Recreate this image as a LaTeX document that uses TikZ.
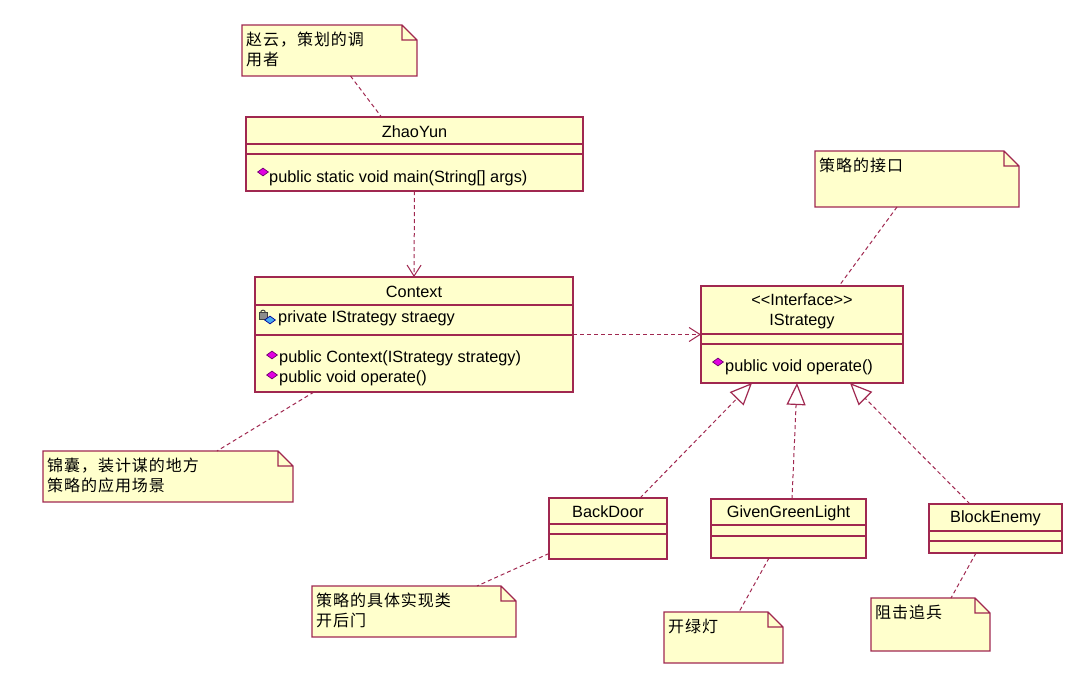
\documentclass[tikz,border=0pt]{standalone}
\usepackage{fontspec}
\setmainfont{Liberation Sans}
\newfontfamily\cjk[LetterSpace=6]{Noto Sans CJK SC}
\usepackage{tikz}
\usetikzlibrary{
  positioning,
  arrows.meta,
  shapes.geometric
}
\definecolor{umlred}{RGB}{160,40,80}
\definecolor{umlfill}{RGB}{255,255,204}
\definecolor{opcolor}{RGB}{225,0,225}
\definecolor{opedge}{RGB}{110,0,110}
\definecolor{privcolor}{RGB}{70,170,240}
\tikzset{
  every node/.style={font=\fontsize{16.3}{20}\selectfont},
  classbox/.style={draw=umlred, fill=umlfill, line width=1.2pt, anchor=north west, inner sep=0pt, outer sep=0pt},
  notebox/.style={fill=umlfill, anchor=north west, inner sep=0pt, outer sep=0pt},
  notetext/.style={font=\cjk\fontsize{16}{20}\selectfont, align=left, inner sep=0pt, anchor=north west},
  member/.style={anchor=west, inner sep=0pt},
  umlline/.style={umlred, line width=1.2pt},
  link/.style={umlred, line width=1pt, dash pattern=on 4pt off 3pt},
  depend/.style={link, -{Straight Barb[length=11pt, width=14pt, line width=1pt]}},
  realize/.style={link, -{Triangle[length=22pt, width=19pt, fill=white, line width=1.2pt]}},
  opicon/.style={diamond, draw=opedge, fill=opcolor, line width=0.7pt, minimum width=11pt, minimum height=8pt, inner sep=0pt},
  lockicon/.style={draw=black!75, fill=black!45, line width=0.7pt, minimum width=8pt, minimum height=6.5pt, inner sep=0pt},
  privicon/.style={diamond, draw=blue!60!black, fill=privcolor, line width=0.7pt, minimum width=11pt, minimum height=8pt, inner sep=0pt}
}
\newcommand\umlclass[8]{
  \node[classbox, minimum width=#4pt, minimum height=#5pt] (#1) at (#2,#3) {};
  \draw[umlline] ([yshift=-#6pt]#1.north west) -- ([yshift=-#6pt]#1.north east)
    ([yshift=-#7pt]#1.north west) -- ([yshift=-#7pt]#1.north east);
  \node[align=center, inner sep=0pt] (#1-title) at ([yshift={-(#6/2+1)*1pt}]#1.north) {#8};
}
\newcommand\umlnote[6]{
  \node[notebox, minimum width=#4pt, minimum height=#5pt] (#1) at (#2,#3) {};
  \fill[white] ([xshift=-15pt]#1.north east) -- (#1.north east) -- ([yshift=-15pt]#1.north east) -- cycle;
  \draw[umlline] (#1.north west) -- ([xshift=-15pt]#1.north east) -- ([yshift=-15pt]#1.north east)
    -- (#1.south east) -- (#1.south west) -- cycle
    ([xshift=-15pt]#1.north east) |- ([yshift=-15pt]#1.north east);
  \node[notetext, below right=7pt and 4pt of #1.north west] (#1-text) {#6};
}
\begin{document}
\begin{tikzpicture}[x=1pt, y=-1pt]
  \fill[white] (0,0) rectangle (1078,680);
  \useasboundingbox (0,0) rectangle (1078,680);

  \umlnote{zyNote}{242}{25}{175}{51}{赵云，策划的调\\用者}
  \umlclass{zhao}{246}{117}{337}{74}{27}{37}{ZhaoYun}
  \node[opicon] (zhaoOpIcon) at (263,172) {};
  \node[member] (zhaoOp) at (269,178) {public static void main(String[] args)};

  \umlclass{ctx}{255}{277}{318}{115}{28}{58}{Context}
  \node[lockicon] (ctxLock) at (263,316) {};
  \draw[black!75, line width=1pt] ([xshift=-2.3pt]ctxLock.north) arc[start angle=180, end angle=0, radius=2.3pt];
  \node[privicon] (ctxAttrIcon) at (270,320) {};
  \node[member] (ctxAttr) at (278,318) {private IStrategy straegy};
  \node[opicon] (ctxOpIconA) at (272,355) {};
  \node[member] (ctxOpA) at (279,358) {public Context(IStrategy strategy)};
  \node[opicon] (ctxOpIconB) at (272,375) {};
  \node[member] (ctxOpB) at (279,378) {public void operate()};
  \umlnote{ctxNote}{43}{451}{250}{51}{锦囊，装计谋的地方\\策略的应用场景}

  \umlclass{istr}{701}{286}{202}{97}{48}{58}{<\kern0pt<Interface>\kern0pt>\\IStrategy}
  \node[opicon] (istrOpIcon) at (718,362) {};
  \node[member] (istrOp) at (725,367) {public void operate()};
  \umlnote{istrNote}{815}{151}{204}{56}{策略的接口}

  \umlclass{bd}{549}{498}{118}{61}{26}{36}{BackDoor}
  \umlclass{ggl}{711}{499}{155}{59}{26}{37}{GivenGreenLight}
  \umlclass{be}{929}{504}{133}{49}{27}{37}{BlockEnemy}
  \umlnote{bdNote}{312}{586}{204}{51}{策略的具体实现类\\开后门}
  \umlnote{gglNote}{664}{612}{119}{51}{开绿灯}
  \umlnote{beNote}{871}{598}{119}{53}{阻击追兵}

  \draw[link] ([xshift=21pt]zyNote.south) -- ([xshift=-33pt]zhao.north);
  \draw[depend] (zhao.south) -- (ctx.north);
  \draw[link] ([xshift=-100pt]ctx.south) -- ([xshift=49pt]ctxNote.north);
  \draw[depend] (ctx.east) -- (istr.west);
  \draw[link] ([xshift=-20pt]istrNote.south) -- ([xshift=37pt]istr.north);
  \draw[realize] ([xshift=32pt]bd.north) -- ([xshift=-50pt]istr.south);
  \draw[realize] ([xshift=3.5pt]ggl.north) -- ([xshift=-5pt]istr.south);
  \draw[realize] ([xshift=-25.5pt]be.north) -- ([xshift=48pt]istr.south);
  \draw[link] ([yshift=-25pt]bd.west) -- ([xshift=63pt]bdNote.north);
  \draw[link] ([xshift=-19.5pt]ggl.south) -- ([xshift=15.5pt]gglNote.north);
  \draw[link] ([xshift=-19.5pt]be.south) -- ([xshift=20.5pt]beNote.north);
\end{tikzpicture}
\end{document}
